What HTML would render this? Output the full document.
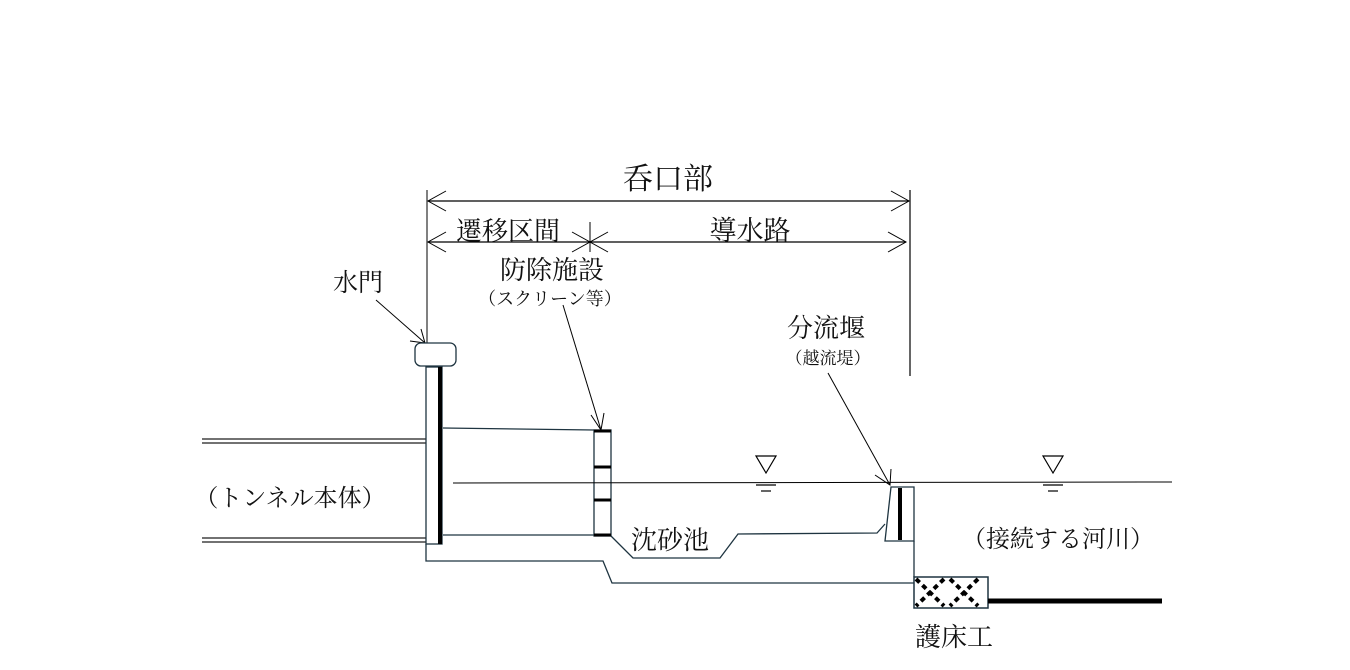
<!DOCTYPE html>
<html><head><meta charset="utf-8"><style>
html,body{margin:0;padding:0;background:#fff;}
svg{display:block}
text{font-family:"Liberation Serif","Noto Serif CJK SC","Noto Serif CJK JP",serif;fill:#111;}
</style></head><body>
<svg width="1350" height="670" viewBox="0 0 1350 670" xmlns="http://www.w3.org/2000/svg">
<g stroke="#000" fill="none">
<line x1="427" y1="190" x2="427" y2="345" stroke-width="1"/>
<line x1="910" y1="190" x2="910" y2="376" stroke-width="1.2"/>
<line x1="428" y1="201" x2="909" y2="201" stroke-width="1.2"/>
<polyline points="446,191 428,201 446,211"/>
<polyline points="891,191 909,201 891,211"/>
<line x1="428" y1="242" x2="906" y2="242" stroke-width="1.2"/>
<polyline points="446,232 428,242 446,252"/>
<polyline points="572,232 590,242 572,252"/>
<polyline points="608,232 590,242 608,252"/>
<polyline points="888,232 906,242 888,252"/>
<line x1="590" y1="222" x2="590" y2="252"/>
<line x1="376" y1="300" x2="425" y2="343"/>
<polyline points="410,341 425,343 421,329"/>
<line x1="563" y1="305" x2="601" y2="430"/>
<polyline points="591,415 601,430 604,413"/>
<line x1="828" y1="373" x2="890" y2="485"/>
<polyline points="875,475 890,485 891,469"/>
</g>
<g stroke="#444" stroke-width="1.5">
<line x1="202" y1="439" x2="426" y2="439"/><line x1="202" y1="443" x2="426" y2="443"/>
<line x1="202" y1="538" x2="426" y2="538"/><line x1="202" y1="542" x2="426" y2="542"/>
</g>
<g stroke="#1e3440" fill="none" stroke-width="1.3">
<rect x="426" y="367" width="16" height="177" fill="#fff"/>
<rect x="415" y="343" width="41" height="23" rx="6" fill="#fff"/>
<line x1="443" y1="428" x2="594" y2="430"/>
<line x1="443" y1="535" x2="594" y2="535"/>
<rect x="594" y="430" width="17" height="106" fill="#fff"/>
<polyline points="611,536 633,558 720,558 738,534 877,533 885,524"/>
<polygon points="891,487 914,487 914,541 885,541" fill="#fff"/>
<polyline points="426,544 426,561 603,561 612,583 914,583"/>
<line x1="914" y1="541" x2="914" y2="577"/>
<rect x="914" y="577" width="74" height="31" fill="#fff" stroke-width="1.5"/>
</g>
<g stroke="#000">
<line x1="440" y1="367" x2="440" y2="544" stroke-width="4"/>
<line x1="594" y1="431" x2="611" y2="431" stroke-width="3"/>
<line x1="594" y1="467" x2="611" y2="467" stroke-width="3"/>
<line x1="594" y1="500" x2="611" y2="500" stroke-width="3"/>
<line x1="594" y1="535" x2="611" y2="535" stroke-width="3"/>
<line x1="900" y1="488" x2="900" y2="540" stroke-width="4"/>
<line x1="988" y1="601" x2="1162" y2="601" stroke-width="5"/>
<line x1="453" y1="483" x2="1172" y2="482" stroke-width="1"/>
<g stroke-width="4" stroke-dasharray="5,4">
<line x1="916" y1="579" x2="944" y2="606"/><line x1="944" y1="579" x2="916" y2="606"/>
<line x1="950" y1="579" x2="978" y2="606"/><line x1="978" y1="579" x2="950" y2="606"/>
</g>
<g fill="none" stroke-width="1.2">
<polygon points="756,456 776,456 766,473"/>
<line x1="756" y1="485" x2="776" y2="485"/><line x1="761" y1="491" x2="771" y2="491"/>
<polygon points="1043,456 1063,456 1053,473"/>
<line x1="1043" y1="485" x2="1063" y2="485"/><line x1="1048" y1="491" x2="1058" y2="491"/>
</g>
</g>
<text x="668" y="189" font-size="30" text-anchor="middle">呑口部</text>
<text x="508" y="240" font-size="26" text-anchor="middle">遷移区間</text>
<text x="750" y="240" font-size="27" text-anchor="middle">導水路</text>
<text x="552" y="279" font-size="26" text-anchor="middle">防除施設</text>
<text x="550" y="305" font-size="18" text-anchor="middle">（スクリーン等）</text>
<text x="358" y="291" font-size="25" text-anchor="middle">水門</text>
<text x="826" y="337" font-size="26" text-anchor="middle">分流堰</text>
<text x="828" y="364" font-size="17" text-anchor="middle">（越流堤）</text>
<text x="290" y="506" font-size="24" text-anchor="middle">（トンネル本体）</text>
<text x="670" y="549" font-size="26" text-anchor="middle">沈砂池</text>
<text x="1058" y="547" font-size="24" text-anchor="middle">（接続する河川）</text>
<text x="954" y="646" font-size="26" text-anchor="middle">護床工</text>
</svg>
</body></html>
